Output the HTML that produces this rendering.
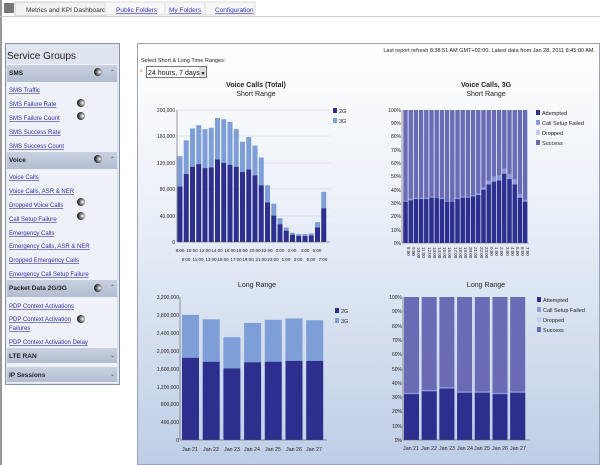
<!DOCTYPE html>
<html><head><meta charset="utf-8"><style>
body{margin:0;width:600px;height:465px;overflow:hidden;background:#fff;font-family:"Liberation Sans",sans-serif;}
svg{position:absolute;left:0;top:0}
</style></head><body>
<svg width="600" height="465" xmlns="http://www.w3.org/2000/svg" font-family="Liberation Sans, sans-serif">
<defs>
<linearGradient id="bg" x1="0" y1="0" x2="0" y2="1"><stop offset="0" stop-color="#ffffff"/><stop offset="0.4" stop-color="#eaf0f8"/><stop offset="1" stop-color="#bfcde6"/></linearGradient>
<linearGradient id="hd" x1="0" y1="0" x2="0" y2="1"><stop offset="0" stop-color="#c9d1e0"/><stop offset="1" stop-color="#b3bdd0"/></linearGradient>
<radialGradient id="ball" cx="0.7" cy="0.5" r="0.6"><stop offset="0" stop-color="#fff"/><stop offset="0.5" stop-color="#888"/><stop offset="1" stop-color="#222"/></radialGradient>
</defs>
<rect x="0" y="0" width="2" height="465" fill="#999"/>
<rect x="4" y="3" width="10" height="10" fill="#777"/>
<rect x="15" y="2" width="90" height="14" fill="#f2f2f2" stroke="#ccc"/>
<text x="26" y="12" font-size="6.5" fill="#333">Metrics and KPI Dashboard</text>
<rect x="105" y="2" width="60" height="13" fill="#f7f7f7" stroke="#ddd"/>
<text x="116" y="12" font-size="6.5" fill="#33c" text-decoration="underline">Public Folders</text>
<rect x="165" y="2" width="40" height="13" fill="#f7f7f7" stroke="#ddd"/>
<text x="169" y="12" font-size="6.5" fill="#33c" text-decoration="underline">My Folders</text>
<rect x="205" y="2" width="50" height="13" fill="#f7f7f7" stroke="#ddd"/>
<text x="215" y="12" font-size="6.5" fill="#33c" text-decoration="underline">Configuration</text>
<rect x="0" y="16" width="600" height="1" fill="#ccc"/>
<rect x="5.5" y="43.5" width="114" height="341" fill="#dfe5f0" stroke="#8a93a6"/>
<rect x="7" y="64" width="110" height="319" fill="#eef1f7"/>
<text x="7" y="59" font-size="10" fill="#222">Service Groups</text>
<g font-size="6" fill="#33a" text-decoration="underline">
<text x="9" y="92">SMS Traffic</text><text x="9" y="106">SMS Failure Rate</text><text x="9" y="120">SMS Failure Count</text><text x="9" y="134">SMS Success Rate</text><text x="9" y="148">SMS Success Count</text>
<text x="9" y="179">Voice Calls</text><text x="9" y="193">Voice Calls, ASR &amp; NER</text><text x="9" y="207">Dropped Voice Calls</text><text x="9" y="221">Call Setup Failure</text><text x="9" y="235">Emergency Calls</text><text x="9" y="248">Emergency Calls, ASR &amp; NER</text><text x="9" y="262">Dropped Emergency Calls</text><text x="9" y="276">Emergency Call Setup Failure</text>
<text x="9" y="308">PDP Context Activations</text><text x="9" y="321">PDP Context Activation</text><text x="9" y="330">Failures</text><text x="9" y="344">PDP Context Activation Delay</text>
</g>
<g fill="url(#hd)"><rect x="7" y="65" width="110" height="17"/><rect x="7" y="152" width="110" height="17"/><rect x="7" y="280" width="110" height="17"/><rect x="7" y="348" width="110" height="15"/><rect x="7" y="367" width="110" height="15"/></g>
<g font-size="6.5" font-weight="bold" fill="#222">
<text x="9" y="75">SMS</text><text x="9" y="162">Voice</text><text x="9" y="290">Packet Data 2G/3G</text><text x="9" y="358">LTE RAN</text><text x="9" y="377">IP Sessions</text>
</g>
<g font-size="6" fill="#555"><text x="110" y="74">⌃</text><text x="110" y="161">⌃</text><text x="110" y="289">⌃</text><text x="110" y="357">⌄</text><text x="110" y="376">⌄</text></g>
<g fill="url(#ball)"><circle cx="98" cy="72" r="4"/><circle cx="81" cy="103" r="4"/><circle cx="81" cy="116" r="4"/><circle cx="98" cy="159" r="4"/><circle cx="81" cy="202" r="4"/><circle cx="81" cy="216" r="4"/><circle cx="98" cy="288" r="4"/><circle cx="81" cy="319" r="4"/></g>
<rect x="137.5" y="43.5" width="462" height="421" fill="url(#bg)" stroke="#9aa3b5"/>
<text x="595" y="52" font-size="5.5" fill="#222" text-anchor="end">Last report refresh 8:38:51 AM GMT+02:00. Latest data from Jan 28, 2011 8:45:00 AM.</text>
<text x="141" y="62" font-size="5.5" fill="#222">Select Short &amp; Long Time Ranges:</text>
<text x="140" y="74" font-size="6" fill="#c60">*</text>
<rect x="146.5" y="66.5" width="60" height="11" fill="#fff" stroke="#777"/>
<rect x="199" y="67" width="7" height="10" fill="#ddd"/>
<text x="148" y="75" font-size="7" fill="#111">24 hours, 7 days</text>
<text x="200.5" y="75" font-size="5" fill="#111">▼</text>
<g font-size="7" fill="#222" text-anchor="middle">
<text x="256" y="87" font-weight="bold">Voice Calls (Total)</text><text x="256" y="96">Short Range</text>
<text x="486" y="87" font-weight="bold">Voice Calls, 3G</text><text x="486" y="96">Short Range</text>
<text x="257" y="287">Long Range</text>
<text x="486" y="287">Long Range</text>
</g>
<g font-size="5" fill="#222" text-anchor="end">
<text x="175" y="112">200,000</text><text x="175" y="138">160,000</text><text x="175" y="165">120,000</text><text x="175" y="191">80,000</text><text x="175" y="218">40,000</text><text x="175" y="244">0</text>
<text x="401" y="112">100%</text><text x="401" y="125">90%</text><text x="401" y="138">80%</text><text x="401" y="152">70%</text><text x="401" y="165">60%</text><text x="401" y="178">50%</text><text x="401" y="192">40%</text><text x="401" y="205">30%</text><text x="401" y="218">20%</text><text x="401" y="232">10%</text><text x="401" y="245">0%</text>
<text x="179" y="299">3,200,000</text><text x="179" y="317">2,800,000</text><text x="179" y="335">2,400,000</text><text x="179" y="353">2,000,000</text><text x="179" y="371">1,600,000</text><text x="179" y="389">1,200,000</text><text x="179" y="406">800,000</text><text x="179" y="424">400,000</text><text x="179" y="442">0</text>
<text x="402" y="299">100%</text><text x="402" y="313">90%</text><text x="402" y="328">80%</text><text x="402" y="342">70%</text><text x="402" y="356">60%</text><text x="402" y="371">50%</text><text x="402" y="385">40%</text><text x="402" y="399">30%</text><text x="402" y="413">20%</text><text x="402" y="428">10%</text><text x="402" y="442">0%</text>
</g>
<g font-size="4.5" fill="#222" text-anchor="middle">
<text x="180" y="252">8:00</text><text x="192" y="252">10:00</text><text x="205" y="252">12:00</text><text x="217" y="252">14:00</text><text x="230" y="252">16:00</text><text x="242" y="252">18:00</text><text x="255" y="252">20:00</text><text x="267" y="252">22:00</text><text x="280" y="252">0:00</text><text x="292" y="252">2:00</text><text x="305" y="252">4:00</text><text x="317" y="252">6:00</text>
<text x="186" y="261">9:00</text><text x="198" y="261">11:00</text><text x="211" y="261">13:00</text><text x="223" y="261">15:00</text><text x="236" y="261">17:00</text><text x="248" y="261">19:00</text><text x="261" y="261">21:00</text><text x="273" y="261">23:00</text><text x="286" y="261">1:00</text><text x="298" y="261">3:00</text><text x="311" y="261">5:00</text><text x="323" y="261">7:00</text>
</g>
<g font-size="5.3" fill="#222" text-anchor="middle">
<text x="190" y="451">Jan 21</text><text x="211" y="451">Jan 22</text><text x="232" y="451">Jan 23</text><text x="252" y="451">Jan 24</text><text x="273" y="451">Jan 25</text><text x="294" y="451">Jan 26</text><text x="314" y="451">Jan 27</text>
<text x="411" y="450">Jan 21</text><text x="429" y="450">Jan 22</text><text x="447" y="450">Jan 23</text><text x="465" y="450">Jan 24</text><text x="482" y="450">Jan 25</text><text x="500" y="450">Jan 26</text><text x="518" y="450">Jan 27</text>
</g>
<g font-size="4.5" fill="#222">
<text transform="translate(407,247) rotate(90)">8:00</text><text transform="translate(412,247) rotate(90)">9:00</text><text transform="translate(417,247) rotate(90)">10:00</text><text transform="translate(422,247) rotate(90)">11:00</text><text transform="translate(428,247) rotate(90)">12:00</text><text transform="translate(433,247) rotate(90)">13:00</text><text transform="translate(438,247) rotate(90)">14:00</text><text transform="translate(443,247) rotate(90)">15:00</text><text transform="translate(448,247) rotate(90)">16:00</text><text transform="translate(454,247) rotate(90)">17:00</text><text transform="translate(459,247) rotate(90)">18:00</text><text transform="translate(464,247) rotate(90)">19:00</text><text transform="translate(469,247) rotate(90)">20:00</text><text transform="translate(474,247) rotate(90)">21:00</text><text transform="translate(480,247) rotate(90)">22:00</text><text transform="translate(485,247) rotate(90)">23:00</text><text transform="translate(490,247) rotate(90)">0:00</text><text transform="translate(495,247) rotate(90)">1:00</text><text transform="translate(500,247) rotate(90)">2:00</text><text transform="translate(506,247) rotate(90)">3:00</text><text transform="translate(511,247) rotate(90)">4:00</text><text transform="translate(516,247) rotate(90)">5:00</text><text transform="translate(521,247) rotate(90)">6:00</text><text transform="translate(526,247) rotate(90)">7:00</text>
</g>
<g font-size="5.5" fill="#222">
<rect x="333" y="108" width="4" height="5" fill="#2e2e8f"/><text x="339" y="113">2G</text>
<rect x="333" y="118" width="4" height="5" fill="#7d9ed6"/><text x="339" y="123">3G</text>
<rect x="536" y="110" width="4" height="5" fill="#2e2e8f"/><text x="542" y="115">Attempted</text>
<rect x="536" y="120" width="4" height="5" fill="#8c9ad8"/><text x="542" y="125">Call Setup Failed</text>
<rect x="536" y="130" width="4" height="5" fill="#c3cdef"/><text x="542" y="135">Dropped</text>
<rect x="536" y="140" width="4" height="5" fill="#6a6ab5"/><text x="542" y="145">Success</text>
<rect x="335" y="308" width="4" height="5" fill="#2e2e8f"/><text x="341" y="313">2G</text>
<rect x="335" y="318" width="4" height="5" fill="#7d9ed6"/><text x="341" y="323">3G</text>
<rect x="537" y="297" width="4" height="5" fill="#2e2e8f"/><text x="543" y="302">Attempted</text>
<rect x="537" y="307" width="4" height="5" fill="#8c9ad8"/><text x="543" y="312">Call Setup Failed</text>
<rect x="537" y="317" width="4" height="5" fill="#c3cdef"/><text x="543" y="322">Dropped</text>
<rect x="537" y="327" width="4" height="5" fill="#6a6ab5"/><text x="543" y="332">Success</text>
</g>
<g id="bars"></g>
</svg>
<script>
var g=document.getElementById('bars'),NS='http://www.w3.org/2000/svg';
function r(x,y,w,h,f){var e=document.createElementNS(NS,'rect');e.setAttribute('x',x);e.setAttribute('y',y);e.setAttribute('width',w);e.setAttribute('height',Math.max(h,0));e.setAttribute('fill',f);g.appendChild(e);}
function ln(x1,y1,x2,y2,c){var e=document.createElementNS(NS,'line');e.setAttribute('x1',x1);e.setAttribute('y1',y1);e.setAttribute('x2',x2);e.setAttribute('y2',y2);e.setAttribute('stroke',c);e.setAttribute('stroke-width',0.6);g.appendChild(e);}
[110,136,163,189,216].forEach(function(y){ln(177,y,330,y,'#ccd');});
var T=[130,154,172,177,171,173,188,186,182,171,152,159,146,128,86,58,36,22,14,12,12,13,30,76],G=[84,103,114,118,112,113,125,120,117,114,106,110,101,86,60,40,27,17,11,9,9,10,22,51];
for(var i=0;i<24;i++){var x=177.5+i*6.25;r(x,242-T[i]*0.66,5,(T[i]-G[i])*0.66,'#7d9ed6');r(x,242-G[i]*0.66,5,G[i]*0.66,'#2e2e8f');}
ln(177,110,177,242,'#555');ln(177,242,330,242,'#555');
var A=[31,32,33,33,33,34,34,33,31,31,33,34,34,35,36,40,44,46,47,52,48,44,34,31],F=[1,1.5,1,1,1,1,0.5,1,0.5,0.5,1,1,1,1,1.5,2,3,4,4,4,4,4,3,1.5];
for(var i=0;i<24;i++){var x=403.3+i*5.2;r(x,110,4.4,133,'#6a6ab5');r(x,243-(A[i]+F[i])*1.33,4.4,F[i]*1.33,'#8c9ad8');r(x,243-A[i]*1.33,4.4,A[i]*1.33,'#2e2e8f');}
ln(402,110,402,243,'#555');ln(402,243,529,243,'#555');
var LT=[2.8,2.7,2.3,2.62,2.69,2.72,2.68],LG=[1.84,1.75,1.6,1.74,1.75,1.77,1.77],k=143/3.2;
for(var i=0;i<7;i++){var x=182+i*20.7;r(x,440-LT[i]*k,17,(LT[i]-LG[i])*k,'#7d9ed6');r(x,440-LG[i]*k,17,LG[i]*k,'#2e2e8f');}
ln(180,297,180,440,'#555');ln(180,440,327,440,'#555');
var LA=[32,34,36,33,33,32,33];
for(var i=0;i<7;i++){var x=404+i*17.7;r(x,297,15,143,'#6a6ab5');r(x,440-(LA[i]+1)*1.43,15,1.43,'#8c9ad8');r(x,440-LA[i]*1.43,15,LA[i]*1.43,'#2e2e8f');}
ln(403,297,403,440,'#555');ln(403,440,530,440,'#555');
</script>
</body></html>
